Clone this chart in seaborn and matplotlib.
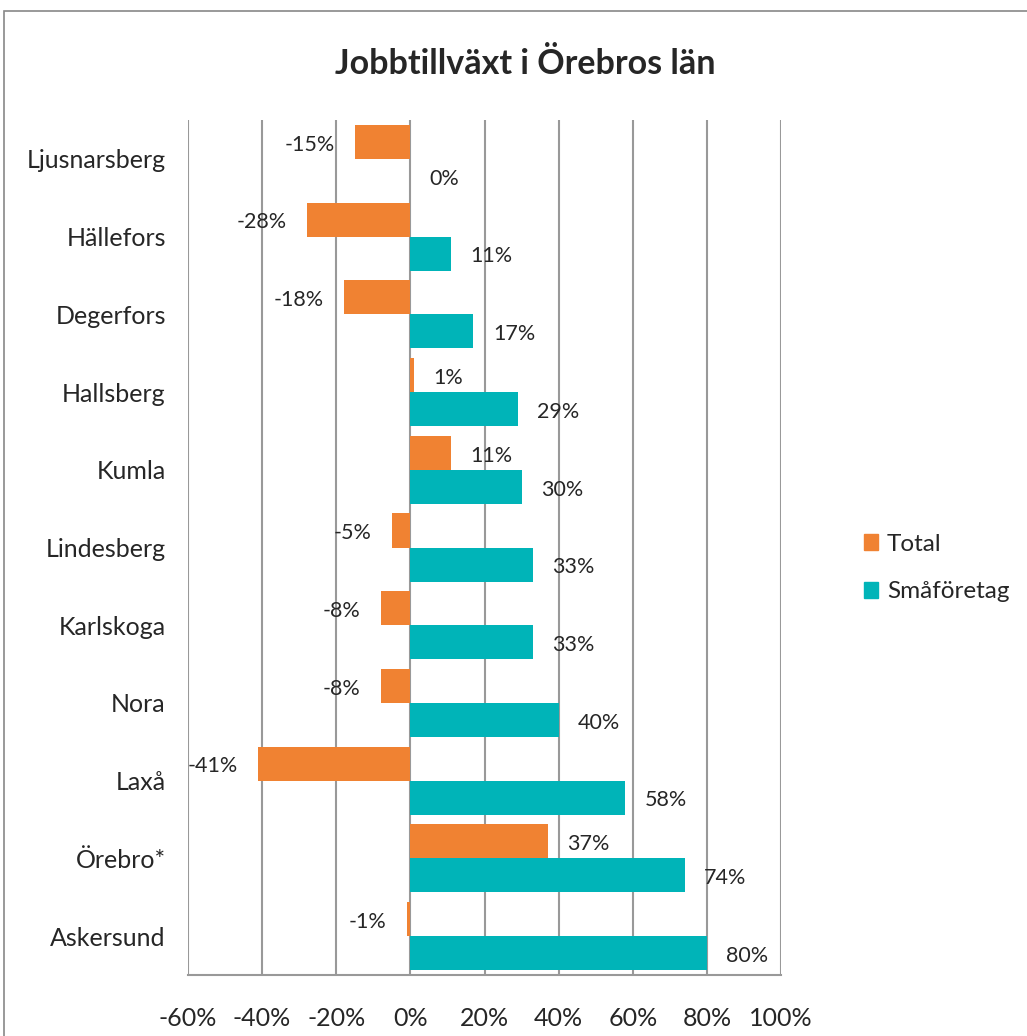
import pandas as pd
import matplotlib.pyplot as plt
import seaborn as sns
from matplotlib.patches import Rectangle
from matplotlib.ticker import FuncFormatter

# Data
kommuner = ['Ljusnarsberg', 'Hällefors', 'Degerfors', 'Hallsberg', 'Kumla',
            'Lindesberg', 'Karlskoga', 'Nora', 'Laxå', 'Örebro*', 'Askersund']
total = [-15, -28, -18, 1, 11, -5, -8, -8, -41, 37, -1]
smaforetag = [0, 11, 17, 29, 30, 33, 33, 40, 58, 74, 80]
serier = ['Total', 'Småföretag']
farger = ['#F08232', '#00B4B8']
xticks = [-60, -40, -20, 0, 20, 40, 60, 80, 100]

df = pd.DataFrame({'Kommun': kommuner * 2,
                   'Serie': [serier[0]] * len(kommuner) + [serier[1]] * len(kommuner),
                   'Varde': total + smaforetag})

sns.set_style('white')
plt.rcParams['font.family'] = ['Lato', 'DejaVu Sans']

fig = plt.figure(figsize=(10.27, 10.36), dpi=100)
ax = fig.add_axes([188 / 1027, 1 - 975 / 1036, (781 - 188) / 1027, (975 - 120) / 1036])

sns.barplot(data=df, y='Kommun', x='Varde', hue='Serie', hue_order=serier,
            palette=farger, width=0.875, orient='h', ax=ax, legend=False,
            saturation=1, edgecolor='none')

ax.set_xlim(-60, 100)
ax.set_xticks(xticks)
ax.xaxis.set_major_formatter(FuncFormatter(lambda v, p: f'{v:.0f}%'))
ax.grid(axis='x', color='#999999', linewidth=1.5)
ax.set_axisbelow(True)
for s in ['top', 'right', 'left']:
    ax.spines[s].set_visible(False)
ax.spines['bottom'].set_color('#999999')
ax.spines['bottom'].set_linewidth(1.5)
ax.tick_params(axis='x', labelsize=18, pad=23, length=0)
ax.tick_params(axis='y', labelsize=18, pad=16, length=0)
ax.set_xlabel('')
ax.set_ylabel('')

# data labels
for cont in ax.containers:
    for bar in cont:
        w = bar.get_width()
        yc = bar.get_y() + bar.get_height() / 2
        if w < 0:
            ax.annotate(f'{w:.0f}%', (w, yc), xytext=(-14.5, -2), textcoords='offset points',
                        ha='right', va='center', fontsize=15.5)
        else:
            ax.annotate(f'{w:.0f}%', (w, yc), xytext=(14, -2), textcoords='offset points',
                        ha='left', va='center', fontsize=15.5)

fig.text(525 / 1027, 1 - 64 / 1036, 'Jobbtillväxt i Örebros län', ha='center', va='center',
         fontsize=24.5, fontweight='bold')

# legend
handles = [Rectangle((0, 0), 1, 1, color=c) for c in farger]
fig.legend(handles, serier, loc='center left', bbox_to_anchor=(842 / 1027, 1 - 568 / 1036),
           frameon=False, fontsize=17.5, handlelength=0.6, handleheight=0.6,
           handletextpad=0.35, labelspacing=1.1)

# outer chart frame
fig.add_artist(Rectangle((4 / 1027, -0.1), 1.2, 1 - 11 / 1036 + 0.1, transform=fig.transFigure,
                         fill=False, edgecolor='#888888', linewidth=1.2))

fig.savefig('out.png', dpi=100)
